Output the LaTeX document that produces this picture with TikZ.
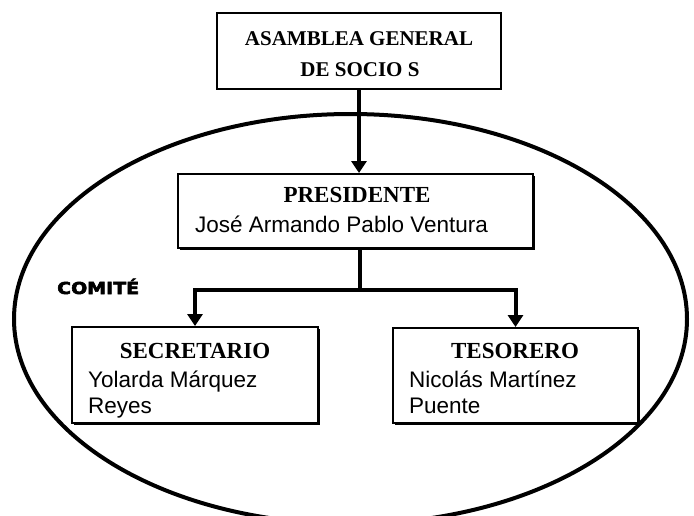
\documentclass[tikz,border=0pt]{standalone}
\usepackage{fontspec}
\setmainfont{Liberation Serif}
\newfontfamily\namefont{Liberation Sans}
\newfontfamily\heavyfont[FakeBold=3]{DejaVu Sans Bold}
\usetikzlibrary{arrows.meta,shadows}
\begin{document}
\begin{tikzpicture}[x=1pt,y=-1pt,
  orgbox/.style={draw,line width=2pt,fill=white,rectangle,inner sep=0pt},
  shadowbox/.style={orgbox,drop shadow={shadow xshift=1.6pt,shadow yshift=-1.6pt,fill=black,opacity=1}},
  conn/.style={line width=4pt},
  arr/.style={line width=4pt,-{Triangle[width=15pt,length=12pt]}},
  titletxt/.style={anchor=base,inner sep=0pt,font=\bfseries\fontsize{23}{23}\selectfont},
  toptxt/.style={anchor=base,inner sep=0pt,font=\bfseries\fontsize{21}{21}\selectfont},
  nametxt/.style={anchor=base west,inner sep=0pt,font=\namefont\fontsize{22.5}{22.5}\selectfont}]
\useasboundingbox (0,0) rectangle (694,515);
\clip (0,0) rectangle (694,515);
\fill[white] (0,0) rectangle (694,515);
% committee ellipse
\draw[line width=4pt] (350.5,319) ellipse [x radius=336.5pt, y radius=205pt];
% boxes
\node[orgbox,minimum width=284pt,minimum height=76pt] (asamblea) at (359,51) {};
\node[shadowbox,minimum width=355pt,minimum height=74pt] (presidente) at (355.5,211) {};
\node[shadowbox,minimum width=246pt,minimum height=96pt] (secretario) at (195,375) {};
\node[shadowbox,minimum width=245pt,minimum height=95pt] (tesorero) at (515.5,375.5) {};
% texts
\node[toptxt] (t1) at (359,45) {ASAMBLEA GENERAL};
\node[toptxt] (t2) at (360,76) {DE SOCIO S};
\node[titletxt] (pt) at (357,202) {PRESIDENTE};
\node[nametxt] (pn) at (195,232) {José Armando Pablo Ventura};
\node[titletxt] (st) at (195,358) {SECRETARIO};
\node[nametxt] (sn1) at (88,387) {Yolarda Márquez};
\node[nametxt] (sn2) at (88,413) {Reyes};
\node[titletxt] (tt) at (515,358) {TESORERO};
\node[nametxt] (tn1) at (409,387) {Nicolás Martínez};
\node[nametxt] (tn2) at (409,413) {Puente};
\node[anchor=base west,inner sep=0pt] (comite) at (57,294) {\scalebox{1.15}[1]{\heavyfont\fontsize{16.5}{16.5}\selectfont COMITÉ}};
% connectors
\draw[arr] (asamblea.south) -- (asamblea.south |- presidente.north);
\coordinate (split) at (360,290);
\draw[conn] (presidente.south -| split) -- (split);
\draw[arr] ([xshift=2pt]split) -| (secretario.north);
\draw[arr] ([xshift=-2pt]split) -| (tesorero.north);
\end{tikzpicture}
\end{document}
